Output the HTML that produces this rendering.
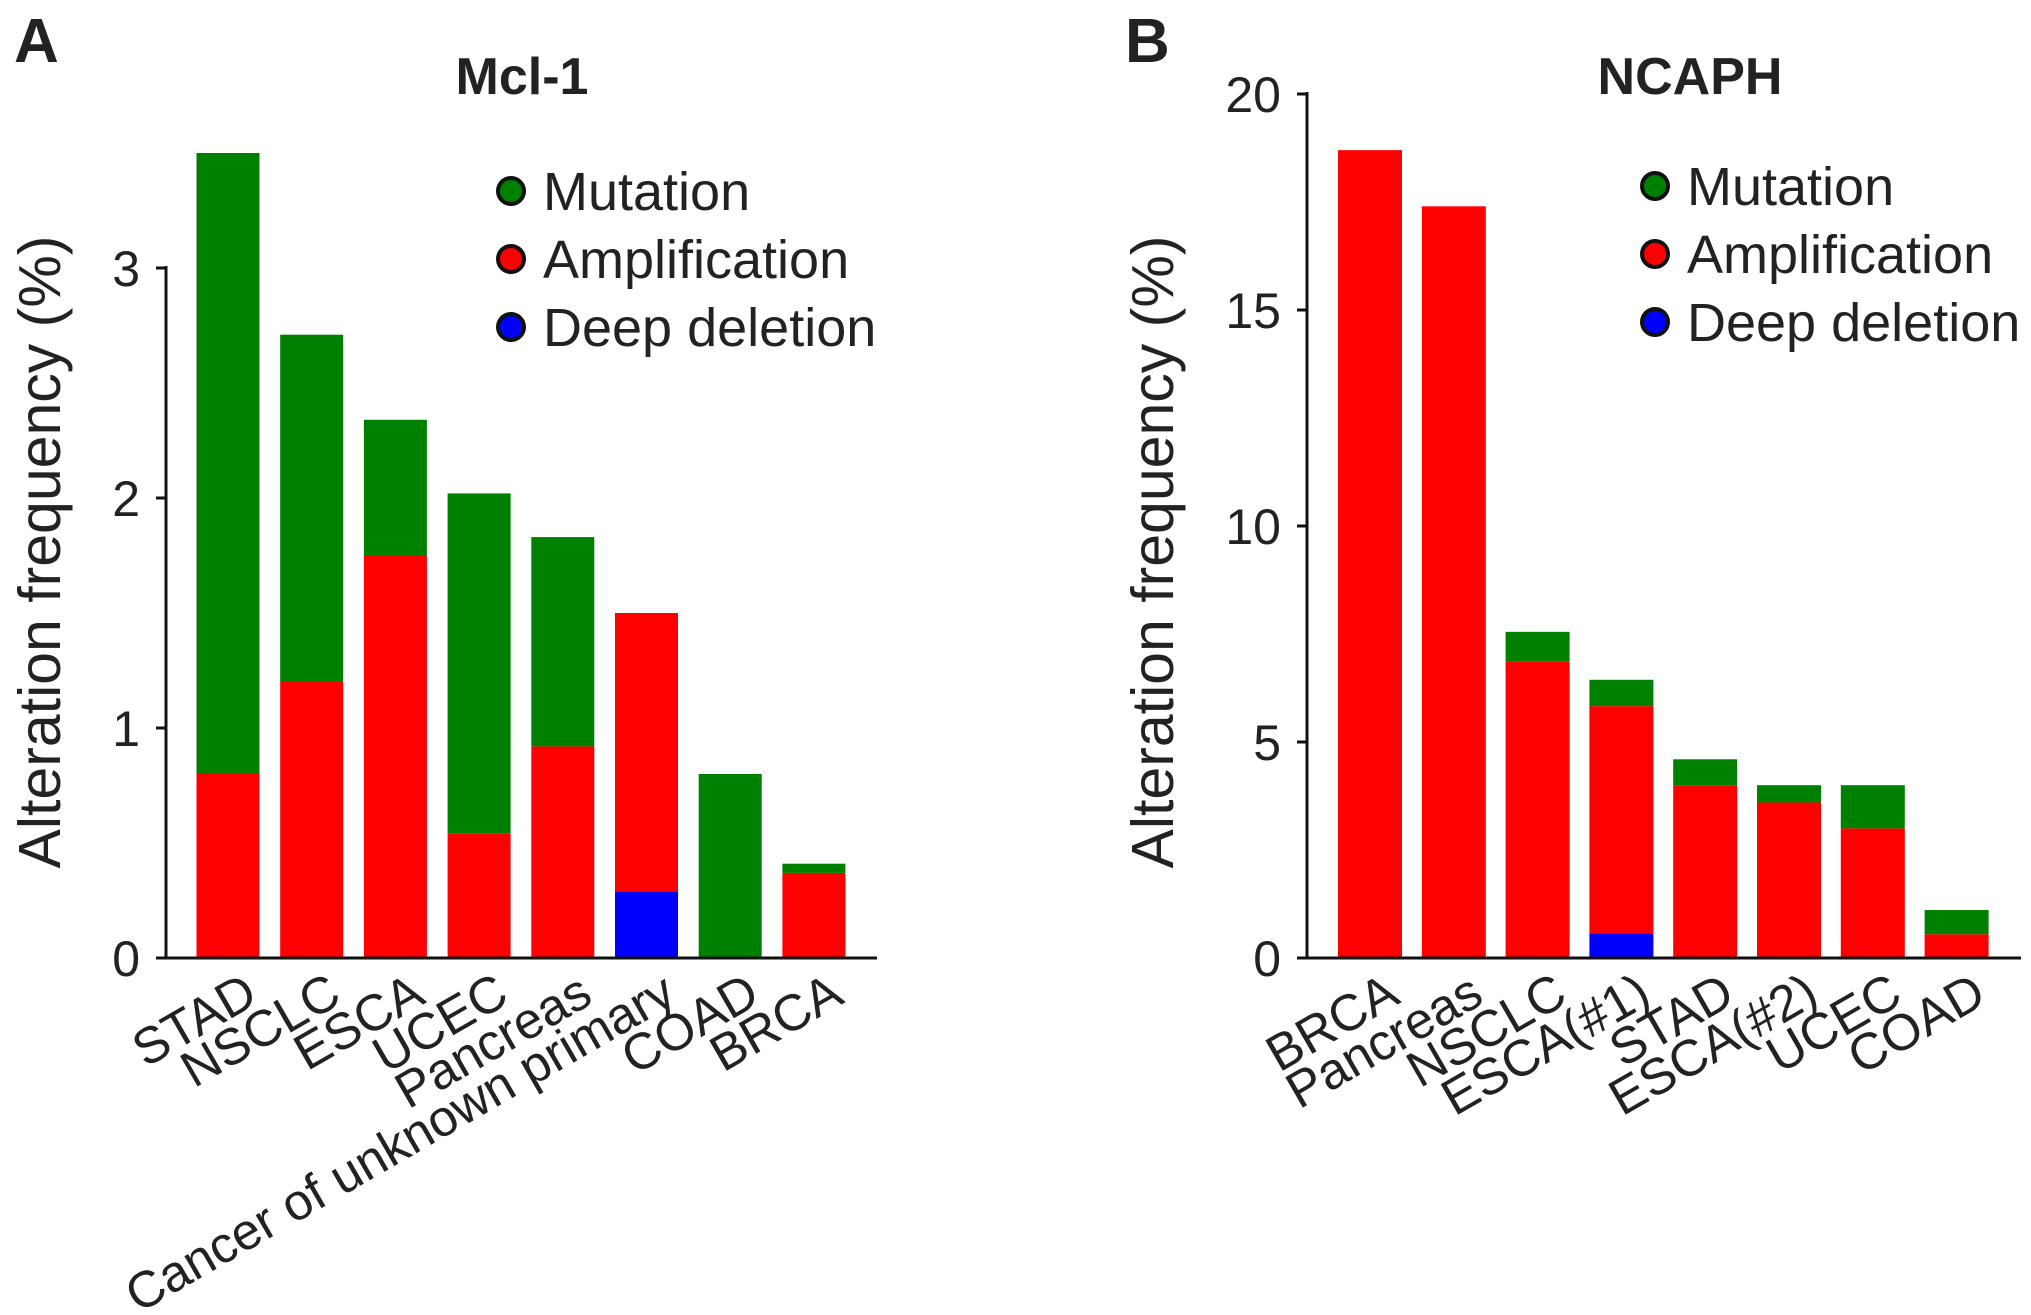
<!DOCTYPE html>
<html><head><meta charset="utf-8"><style>
html,body{margin:0;padding:0;background:#fff;}
svg{display:block;font-family:"Liberation Sans",Arial,sans-serif;}
</style></head><body>
<svg id="c" width="2031" height="1315" viewBox="0 0 2031 1315" xmlns="http://www.w3.org/2000/svg"></svg>
<script>
// Panel A data (Mcl-1)
const catsA = ["STAD","NSCLC","ESCA","UCEC","Pancreas","Cancer of unknown primary","COAD","BRCA"];
const delA = [0,0,0,0,0,0.29,0,0];
const ampA = [0.8,1.2,1.75,0.54,0.92,1.21,0,0.37];
const mutA = [2.7,1.51,0.59,1.48,0.91,0,0.8,0.04];
const ticksA = [0,1,2,3];
// Panel B data (NCAPH)
const catsB = ["BRCA","Pancreas","NSCLC","ESCA(#1)","STAD","ESCA(#2)","UCEC","COAD"];
const delB = [0,0,0,0.57,0,0,0,0];
const ampB = [18.7,17.4,6.86,5.26,4.0,3.6,3.0,0.55];
const mutB = [0,0,0.69,0.61,0.6,0.4,1.0,0.56];
const ticksB = [0,5,10,15,20];

const NS="http://www.w3.org/2000/svg";
const svg=document.getElementById('c');
function mk(tag,attrs,parent){const e=document.createElementNS(NS,tag);for(const k in attrs)e.setAttribute(k,attrs[k]);(parent||svg).appendChild(e);return e;}
const colors={mut:"#008000",amp:"#ff0000",del:"#0000ff"};

function panel(o){
  const g=mk('g',{});
  
  
  const y=v=>o.y0-(v/o.ymax)*(o.y0-o.yTop);
  o.cats.forEach((c,i)=>{
    const cx=o.x0+o.first+i*o.pitch;
    const x=cx-o.bw/2;
    let base=0;
    [['del',o.del[i]],['amp',o.amp[i]],['mut',o.mut[i]]].forEach(([k,v])=>{
      if(v<=0)return;
      const r=mk('rect',{x:x,y:y(base+v),width:o.bw,height:y(base)-y(base+v),fill:colors[k]},g);
      
      
      base+=v;
    });
    const ax=cx+32, ay=o.y0+44;
    const t=mk('text',{x:ax,y:ay,'font-size':51,'text-anchor':'end',fill:'#222',transform:`rotate(-30 ${ax} ${ay})`},g);
    t.textContent=c;
    
    
  });
  const ya=mk('line',{x1:o.x0,y1:o.yTop-2,x2:o.x0,y2:o.y0+1,stroke:'#111','stroke-width':3},g);
  
  
  const xa=mk('line',{x1:o.x0-1,y1:o.y0,x2:o.xEnd,y2:o.y0,stroke:'#111','stroke-width':3},g);
  
  
  o.ticks.forEach(tv=>{
    mk('line',{x1:o.x0-10,y1:y(tv),x2:o.x0,y2:y(tv),stroke:'#111','stroke-width':3},g);
    const t=mk('text',{x:o.x0-26,y:y(tv)+18,'font-size':50,'text-anchor':'end',fill:'#222'},g);
    t.textContent=tv;
    
    
  });
  const yt=mk('text',{x:o.ytx,y:552,'font-size':59,'text-anchor':'middle',fill:'#222',transform:`rotate(-90 ${o.ytx} 552)`},g);
  yt.textContent="Alteration frequency (%)";
  
  
  const ti=mk('text',{x:o.titleX,y:94,'font-size':52,'font-weight':'bold','text-anchor':'middle',fill:'#222'},g);
  ti.textContent=o.title;
  
  
  const pl=mk('text',{x:o.letterX,y:62,'font-size':62,'font-weight':'bold',fill:'#222'},g);
  pl.textContent=o.letter;
  
  
  [['Mutation','mut'],['Amplification','amp'],['Deep deletion','del']].forEach(([lab,k],i)=>{
    const cy=o.legY+i*68;
    const c=mk('circle',{cx:o.legX,cy:cy,r:13,fill:colors[k],stroke:'#111','stroke-width':4},g);
    
    
    const t=mk('text',{x:o.legX+32,y:cy+19,'font-size':54,fill:'#222'},g);
    t.textContent=lab;
    
    
  });
}
panel({id:'mcl1',cats:catsA,del:delA,amp:ampA,mut:mutA,ticks:ticksA,ymax:3,x0:166,y0:958,yTop:958-690,xEnd:877,first:62,pitch:83.7,bw:63,ytx:60,title:'Mcl-1',titleX:522,letter:'A',letterX:14,legX:511,legY:191});
panel({id:'ncaph',cats:catsB,del:delB,amp:ampB,mut:mutB,ticks:ticksB,ymax:20,x0:1307,y0:958,yTop:94,xEnd:2021,first:63,pitch:83.8,bw:64,ytx:1173,title:'NCAPH',titleX:1690,letter:'B',letterX:1125,legX:1655,legY:186});
</script>
</body></html>
